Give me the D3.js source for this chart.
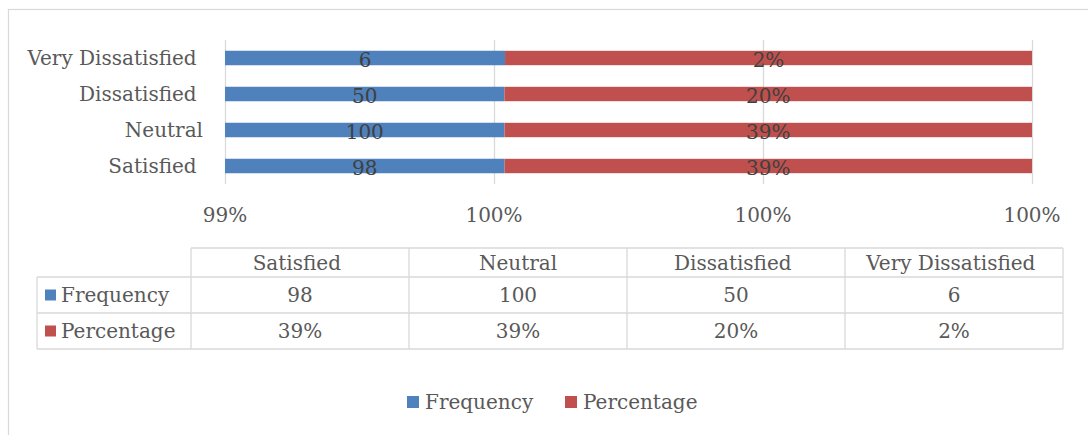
<!DOCTYPE html>
<html>
<head>
<meta charset="utf-8">
<script src="https://cdn.jsdelivr.net/npm/d3@7/dist/d3.min.js"></script>
<style>
  html, body { margin: 0; padding: 0; background: #fff; }
  svg { display: block; }
  text { font-family: "DejaVu Serif", "Liberation Serif", serif; white-space: pre; }
</style>
</head>
<body>
<svg id="chart" width="1088" height="435"></svg>
<script>
// Survey responses (category names keep their trailing spaces)
const categories = ["Satisfied ", "Neutral", "Dissatisfied ", "Very Dissatisfied "];
const frequency  = [98, 100, 50, 6];
const percentage = [0.3858, 0.3937, 0.1969, 0.0236];
const seriesNames = ["Frequency", "Percentage"];
const seriesColors = ["#4f81bd", "#c0504d"];
const axisTicks = [0.994, 0.996, 0.998, 1.0];
const axisDomain = [0.994, 1.0];

const pct = d3.format(".0%");
const svg = d3.select("#chart");
const FONT = 20;
const textColor = "#595959";

// outer chart frame
svg.append("rect")
  .attr("x", 8.5).attr("y", 9.5).attr("width", 1090).attr("height", 440)
  .attr("fill", "none").attr("stroke", "#d9d9d9").attr("stroke-width", 1.2);

// stacked (normalised) data
const rows = categories.map((c, i) => ({ cat: c, Frequency: frequency[i], Percentage: percentage[i] }));
const stacked = d3.stack().keys(seriesNames).offset(d3.stackOffsetExpand)(rows);

const plot = { left: 225, right: 1032, top: 40, bottom: 184 };
const x = d3.scaleLinear().domain(axisDomain).range([plot.left, plot.right]);
const y = d3.scaleBand()
  .domain(categories.slice().reverse())
  .range([plot.top, plot.bottom])
  .paddingInner(0.6).paddingOuter(0.3);

svg.append("defs").append("clipPath").attr("id", "plotClip")
  .append("rect").attr("x", plot.left).attr("y", plot.top)
  .attr("width", plot.right - plot.left).attr("height", plot.bottom - plot.top);

// gridlines
svg.append("g").selectAll("line").data(axisTicks).join("line")
  .attr("x1", d => Math.round(x(d)) + 0.5).attr("x2", d => Math.round(x(d)) + 0.5)
  .attr("y1", plot.top).attr("y2", plot.bottom)
  .attr("stroke", "#d9d9d9").attr("stroke-width", 1.3);

// bars
const barG = svg.append("g").attr("clip-path", "url(#plotClip)");
stacked.forEach((s, si) => {
  barG.append("g").selectAll("rect").data(s).join("rect")
    .attr("x", d => x(d[0]))
    .attr("width", d => x(d[1]) - x(d[0]))
    .attr("y", d => y(d.data.cat))
    .attr("height", y.bandwidth())
    .attr("fill", seriesColors[si]);
});

// bar value labels, centred in the visible part of each segment
stacked.forEach((s, si) => {
  svg.append("g").selectAll("text").data(s).join("text")
    .attr("x", d => (Math.max(x(d[0]), plot.left) + Math.min(x(d[1]), plot.right)) / 2)
    .attr("y", d => y(d.data.cat) + y.bandwidth() / 2)
    .attr("dy", "0.45em")
    .attr("text-anchor", "middle")
    .attr("font-size", FONT)
    .attr("fill", "#404040")
    .text(d => si === 0 ? d.data.Frequency : pct(d.data.Percentage));
});

// category axis labels
svg.append("g").selectAll("text").data(categories).join("text")
  .attr("x", 203)
  .attr("y", d => y(d) + y.bandwidth() / 2)
  .attr("dy", "0.36em")
  .attr("text-anchor", "end")
  .attr("font-size", FONT)
  .attr("fill", textColor)
  .text(d => d);

// value axis tick labels
svg.append("g").selectAll("text").data(axisTicks).join("text")
  .attr("x", d => x(d))
  .attr("y", 215)
  .attr("dy", "0.36em")
  .attr("text-anchor", "middle")
  .attr("font-size", FONT)
  .attr("fill", textColor)
  .text(d => pct(d));

// data table
const tbl = { left: 37, labelRight: 191, right: 1063, rowLines: [248, 277, 313, 349] };
const colW = (tbl.right - tbl.labelRight) / categories.length;
const colX = d3.scaleBand().domain(categories).range([tbl.labelRight, tbl.right]);
const tg = svg.append("g").attr("stroke", "#d9d9d9").attr("stroke-width", 1.3).attr("fill", "none");
// horizontal lines
tg.append("line").attr("x1", tbl.labelRight).attr("x2", tbl.right).attr("y1", tbl.rowLines[0]).attr("y2", tbl.rowLines[0]);
tbl.rowLines.slice(1).forEach(yy =>
  tg.append("line").attr("x1", tbl.left).attr("x2", tbl.right).attr("y1", yy).attr("y2", yy));
// vertical lines
tg.append("line").attr("x1", tbl.left).attr("x2", tbl.left).attr("y1", tbl.rowLines[1]).attr("y2", tbl.rowLines[3]);
categories.concat([null]).forEach((c, i) => {
  const xx = tbl.labelRight + i * colW;
  tg.append("line").attr("x1", xx).attr("x2", xx).attr("y1", tbl.rowLines[0]).attr("y2", tbl.rowLines[3]);
});

const rowMid = i => (tbl.rowLines[i] + tbl.rowLines[i + 1]) / 2;
// header row
svg.append("g").selectAll("text").data(categories).join("text")
  .attr("x", d => colX(d) + colX.bandwidth() / 2)
  .attr("y", rowMid(0)).attr("dy", "0.36em")
  .attr("text-anchor", "middle").attr("font-size", FONT).attr("fill", textColor)
  .text(d => d);
// series rows
const seriesValues = [frequency.map(String), percentage.map(pct)];
seriesNames.forEach((name, si) => {
  const ym = rowMid(si + 1);
  svg.append("rect").attr("x", 45).attr("y", ym - 5.5).attr("width", 11).attr("height", 11)
    .attr("fill", seriesColors[si]);
  svg.append("text").attr("x", 61).attr("y", ym).attr("dy", "0.36em")
    .attr("font-size", FONT).attr("fill", textColor).text(name);
  svg.append("g").selectAll("text").data(categories).join("text")
    .attr("x", d => colX(d) + colX.bandwidth() / 2)
    .attr("y", ym).attr("dy", "0.36em")
    .attr("text-anchor", "middle").attr("font-size", FONT).attr("fill", textColor)
    .text((d, i) => seriesValues[si][i]);
});

// legend
const legendX = [407, 565];
seriesNames.forEach((name, si) => {
  svg.append("rect").attr("x", legendX[si]).attr("y", 396).attr("width", 12).attr("height", 12)
    .attr("fill", seriesColors[si]);
  svg.append("text").attr("x", legendX[si] + 18).attr("y", 402).attr("dy", "0.36em")
    .attr("font-size", FONT).attr("fill", textColor).text(name);
});
</script>
</body>
</html>
